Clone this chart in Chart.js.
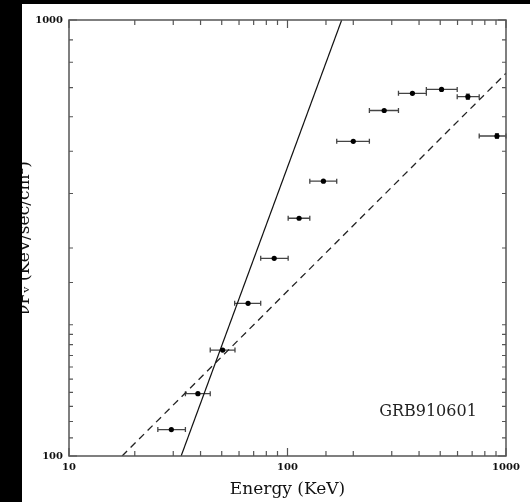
<!DOCTYPE html>
<html>
<head>
<meta charset="utf-8">
<script src="https://cdn.jsdelivr.net/npm/chart.js@4.4.0/dist/chart.umd.min.js"></script>
<style>
html, body { margin: 0; padding: 0; background: #000; }
</style>
</head>
<body>
<canvas id="grb" width="530" height="502"></canvas>
<script>
// spectrum points (KeV, nuF_nu)
const energy   = [29.4, 38.9, 50.5, 66.0, 86.9, 113, 146, 200, 277, 373, 507, 669, 909]
const energyLo = [25.5, 34.1, 44.3, 57.3, 75.4, 100.7, 126.5, 168, 237, 322, 432, 598, 754]
const energyHi = [34.1, 44.3, 57.5, 75.4, 100.7, 126.5, 168, 237, 322, 432, 598, 754, 1000]
const flux     = [115, 139, 175, 224, 284, 351, 427, 527, 620, 679, 693, 667, 542]
const fluxErr  = [0, 0, 0, 0, 0, 0, 0, 0, 0, 0, 0, 9, 7]

// model lines, end points
const steepX = [32.6, 177]
const steepY = [100, 1000]
const flatX = [17.5, 1000]
const flatY = [100, 755]

const xLabels = [10, 100, 1000]
const yLabels = [100, 1000]
const burstName = 'GRB910601'

const serif = "'DejaVu Serif', 'Liberation Serif', serif"
const ink = '#111'
const frameCol = '#555'

function isDecade(v) {
    const l = Math.log10(v)
    return Math.abs(l - Math.round(l)) < 1e-9
}

function pairs(xs, ys) {
    return xs.map((x, i) => ({ x: x, y: ys[i] }))
}

const grbPlugin = {
    id: 'grbPlugin',
    beforeDraw(chart) {
        const ctx = chart.ctx
        ctx.save()
        ctx.fillStyle = '#fff'
        ctx.fillRect(0, 0, chart.width, chart.height)
        ctx.restore()
    },
    beforeDatasetsDraw(chart) {
        // error bars
        const ctx = chart.ctx
        const xs = chart.scales.x, ys = chart.scales.y
        ctx.save()
        ctx.strokeStyle = '#444'
        ctx.lineWidth = 1.3
        for (let i = 0; i < energy.length; i++) {
            const y = ys.getPixelForValue(flux[i])
            const x1 = xs.getPixelForValue(energyLo[i])
            const x2 = xs.getPixelForValue(energyHi[i])
            ctx.beginPath()
            ctx.moveTo(x1, y); ctx.lineTo(x2, y)
            ctx.moveTo(x1, y - 2.5); ctx.lineTo(x1, y + 2.5)
            ctx.moveTo(x2, y - 2.5); ctx.lineTo(x2, y + 2.5)
            if (fluxErr[i] > 0) {
                const x = xs.getPixelForValue(energy[i])
                const yt = ys.getPixelForValue(flux[i] + fluxErr[i])
                const yb = ys.getPixelForValue(flux[i] - fluxErr[i])
                ctx.moveTo(x, yt); ctx.lineTo(x, yb)
                ctx.moveTo(x - 2, yt); ctx.lineTo(x + 2, yt)
                ctx.moveTo(x - 2, yb); ctx.lineTo(x + 2, yb)
            }
            ctx.stroke()
        }
        ctx.restore()
    },
    afterDraw(chart) {
        const ctx = chart.ctx
        const a = chart.chartArea
        const xs = chart.scales.x, ys = chart.scales.y
        ctx.save()
        ctx.strokeStyle = frameCol
        ctx.lineWidth = 1.5
        ctx.strokeRect(a.left, a.top, a.right - a.left, a.bottom - a.top)
        // inward ticks on all four sides
        ctx.lineWidth = 1.2
        ctx.beginPath()
        xs.ticks.forEach(t => {
            const x = xs.getPixelForValue(t.value)
            const len = isDecade(t.value) ? 8 : 5
            ctx.moveTo(x, a.bottom); ctx.lineTo(x, a.bottom - len)
            ctx.moveTo(x, a.top); ctx.lineTo(x, a.top + len)
        })
        ys.ticks.forEach(t => {
            const y = ys.getPixelForValue(t.value)
            const len = isDecade(t.value) ? 8 : 4
            ctx.moveTo(a.left, y); ctx.lineTo(a.left + len, y)
            ctx.moveTo(a.right, y); ctx.lineTo(a.right - len, y)
        })
        ctx.stroke()
        // burst name
        ctx.fillStyle = '#222'
        ctx.font = '16px ' + serif
        ctx.textAlign = 'center'
        ctx.textBaseline = 'middle'
        ctx.fillText(burstName, 428, 412)
        // black border of the scan
        ctx.fillStyle = '#000'
        ctx.fillRect(0, 0, 22, chart.height)
        ctx.fillRect(0, 0, chart.width, 4)
        ctx.restore()
    }
}

const tickFont = { family: serif, size: 10, weight: 'bold' }
const titleFont = { family: serif, size: 17 }

new Chart(document.getElementById('grb'), {
    type: 'scatter',
    data: {
        datasets: [{
            label: 'data',
            data: pairs(energy, flux),
            pointRadius: 2.6,
            pointBackgroundColor: '#000',
            pointBorderWidth: 0
        }, {
            type: 'line',
            label: 'steep',
            data: pairs(steepX, steepY),
            borderColor: ink,
            borderWidth: 1.2,
            pointRadius: 0,
            fill: false
        }, {
            type: 'line',
            label: 'flat',
            data: pairs(flatX, flatY),
            borderColor: '#222',
            borderWidth: 1.3,
            borderDash: [7, 5],
            pointRadius: 0,
            fill: false
        }]
    },
    options: {
        responsive: false,
        animation: false,
        layout: { padding: { top: 20, right: 24, left: 0, bottom: 0 } },
        plugins: {
            legend: { display: false },
            tooltip: { enabled: false }
        },
        scales: {
            x: {
                type: 'logarithmic',
                position: 'bottom',
                min: 10,
                max: 1000,
                grid: { display: false, drawTicks: false },
                border: { display: false },
                ticks: {
                    autoSkip: false,
                    maxRotation: 0,
                    padding: 5,
                    color: ink,
                    font: tickFont,
                    callback: v => xLabels.some(l => Math.abs(l - v) < 1e-6) ? String(v) : ''
                },
                title: {
                    display: true,
                    text: 'Energy (KeV)',
                    color: ink,
                    font: titleFont,
                    padding: { top: 0, bottom: 2 }
                },
                afterFit: s => { s.height = 46 }
            },
            y: {
                type: 'logarithmic',
                position: 'left',
                min: 100,
                max: 1000,
                grid: { display: false, drawTicks: false },
                border: { display: false },
                ticks: {
                    autoSkip: false,
                    padding: 6,
                    color: ink,
                    font: tickFont,
                    callback: v => yLabels.some(l => Math.abs(l - v) < 1e-6) ? String(v) : ''
                },
                title: {
                    display: true,
                    text: 'νFᵥ (KeV/sec/cm²)',
                    color: ink,
                    font: titleFont,
                    padding: { top: 14, bottom: 0 }
                },
                afterFit: s => { s.width = 69 }
            }
        }
    },
    plugins: [grbPlugin]
});
</script>
</body>
</html>
